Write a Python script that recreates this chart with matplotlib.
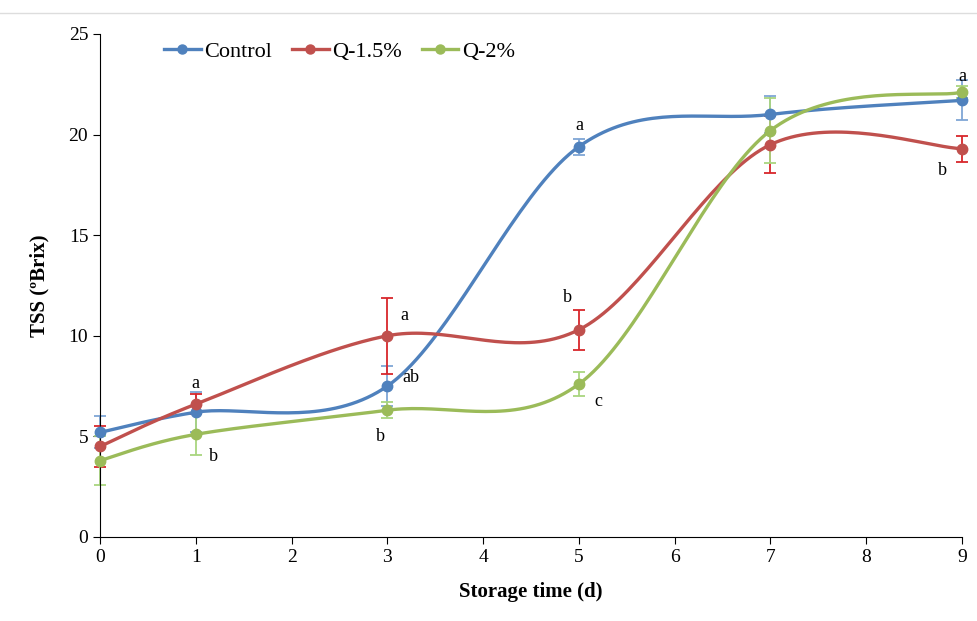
import numpy as np
import matplotlib.pyplot as plt

plt.rcParams['font.family'] = ['Liberation Serif', 'DejaVu Serif']

# dados
dias = [0, 1, 3, 5, 7, 9]
controle = [5.2, 6.2, 7.5, 19.4, 21.0, 21.7]
controle_err = [0.8, 1.0, 1.0, 0.4, 0.9, 1.0]
q15 = [4.5, 6.6, 10.0, 10.3, 19.5, 19.3]
q15_err = [1.0, 0.5, 1.9, 1.0, 1.4, 0.65]
q2 = [3.8, 5.1, 6.3, 7.6, 20.2, 22.1]
q2_err = [1.2, 1.05, 0.4, 0.6, 1.6, 0.3]

# letras de significância (x, y, texto)
letras = [(1, 7.65, 'a'), (1.18, 4.0, 'b'),
          (3.18, 11.0, 'a'), (3.25, 7.95, 'ab'), (2.93, 5.0, 'b'),
          (5.0, 20.45, 'a'), (4.88, 11.9, 'b'), (5.2, 6.75, 'c'),
          (9.0, 22.9, 'a'), (8.8, 18.2, 'b')]

series = [('Control', controle, controle_err, '#4F81BD', '#7FA6D6'),
          ('Q-1.5%', q15, q15_err, '#C0504D', '#D8262B'),
          ('Q-2%', q2, q2_err, '#9BBB59', '#A9D57F')]


# curva suavizada tipo Excel (Catmull-Rom)
def suavizar(x, y, n=40):
    p = np.column_stack([x, y]).astype(float)
    p = np.vstack([p[0], p, p[-1]])
    out = []
    for i in range(1, len(p) - 2):
        p0, p1, p2, p3 = p[i - 1], p[i], p[i + 1], p[i + 2]
        c1 = p1 + (p2 - p0) / 6
        c2 = p2 - (p3 - p1) / 6
        t = np.linspace(0, 1, n)[:, None]
        seg = (1 - t)**3 * p1 + 3 * (1 - t)**2 * t * c1 + 3 * (1 - t) * t**2 * c2 + t**3 * p2
        out.append(seg)
    out = np.vstack(out)
    return out[:, 0], out[:, 1]


fig = plt.figure(figsize=(9.77, 6.21), dpi=100)
ax = fig.add_axes([0.1024, 0.1353, 0.8822, 0.81])

for nome, y, err, cor, cor_err in series:
    xs, ys = suavizar(dias, y)
    eb = ax.errorbar(dias, y, yerr=err, fmt='none', ecolor=cor_err, elinewidth=1.3,
                     capsize=4, capthick=1.3, zorder=2)
    for art in eb.lines[1] + eb.lines[2]:
        art.set_clip_on(False)
    ax.plot(xs, ys, '-', color=cor, lw=2.4, zorder=3, clip_on=False)
    ax.plot(dias, y, 'o', color=cor, ms=7.5, zorder=4, clip_on=False)
    ax.plot([], [], '-o', color=cor, lw=2.4, ms=6.5, label=nome)

for x, y, t in letras:
    ax.text(x, y, t, fontsize=13, ha='center', va='center')

ax.set_xlim(0, 9)
ax.set_ylim(0, 25)
ax.set_xticks(range(10))
ax.set_yticks(range(0, 26, 5))
ax.tick_params(labelsize=14, direction='out', length=5)
ax.spines['top'].set_visible(False)
ax.spines['right'].set_visible(False)
ax.set_xlabel('Storage time (d)', fontsize=15, fontweight='bold', labelpad=12)
ax.set_ylabel('TSS (ºBrix)', fontsize=15, fontweight='bold', labelpad=14)

ax.legend(loc='upper left', bbox_to_anchor=(0.051, 1.025), ncol=3, frameon=False,
          fontsize=16, handlelength=1.65, handletextpad=0.15, columnspacing=0.9)

fig.add_artist(plt.Line2D([0, 1], [0.979, 0.979], color='#DDDDDD', lw=1))

fig.savefig('out.png', dpi=100)
